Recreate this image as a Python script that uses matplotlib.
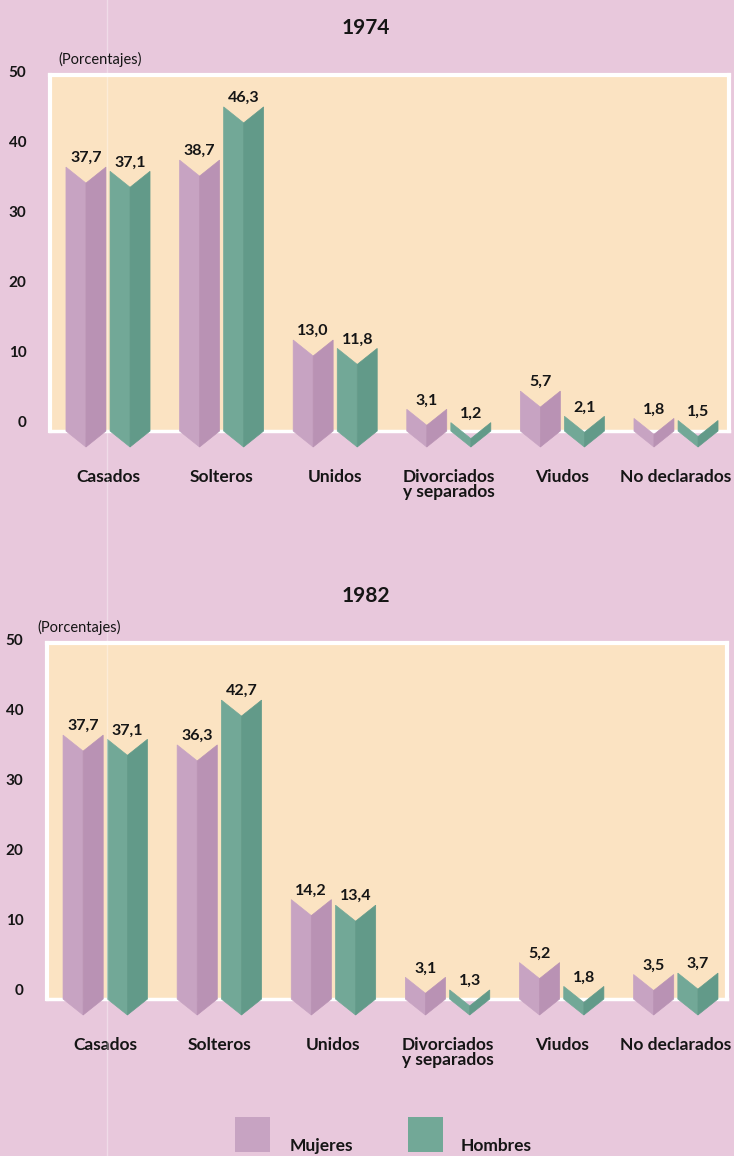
import matplotlib.pyplot as plt
from matplotlib.patches import Polygon, Rectangle
from matplotlib.lines import Line2D
import matplotlib.transforms as mtransforms

categorias = ["Casados", "Solteros", "Unidos", "Divorciados\ny separados", "Viudos", "No declarados"]
anios = ["1974", "1982"]
mujeres_1974 = [37.7, 38.7, 13.0, 3.1, 5.7, 1.8]
hombres_1974 = [37.1, 46.3, 11.8, 1.2, 2.1, 1.5]
mujeres_1982 = [37.7, 36.3, 14.2, 3.1, 5.2, 3.5]
hombres_1982 = [37.1, 42.7, 13.4, 1.3, 1.8, 3.7]
yticks = [0, 10, 20, 30, 40, 50]

FONDO = "#e8c8dc"
CAJA = "#fbe3c2"
MUJ = ("#c7a3c2", "#b992b4")
HOM = ("#72a897", "#629a89")
FONT = "Lato"
TXT = "#151515"

W, H = 734, 1156
fig = plt.figure(figsize=(W / 100, H / 100), dpi=100)
fig.patch.set_facecolor(FONDO)

PXU = 7.0        # pixels per unit
NOTCH = 16 / PXU  # notch depth in data units
HALF = 0.176     # half bar width (x units)
OFF = 0.194      # offset of each bar from group center


def fmt(v):
    return f"{v:.1f}".replace(".", ",")


def barra(ax, xc, v, cols):
    l, r = xc - HALF, xc + HALF
    izq = [(l, v), (xc, v - NOTCH), (xc, -NOTCH), (l, 0)]
    der = [(xc, v - NOTCH), (r, v), (r, 0), (xc, -NOTCH)]
    for pts, c in ((izq, cols[0]), (der, cols[1])):
        ax.add_patch(Polygon(pts, closed=True, facecolor=c, edgecolor=c,
                             lw=0.5, zorder=3, clip_on=False))
    ax.text(xc, v + 2 / PXU, fmt(v), ha="center", va="bottom", fontsize=11.5,
            fontweight="bold", family=FONT, color=TXT, zorder=4)


def panel(top_px, left_px, right_px, titulo, muj, hom, pc_x):
    zero_px = top_px + 356
    ax = fig.add_axes([left_px / W, 1 - zero_px / H, (right_px - left_px) / W, 356 / H])
    ax.set_facecolor(CAJA)
    ax.set_ylim(0, 356 / PXU)
    step = 113.6
    ax.set_xlim(-(108 - 50) / step, (right_px - 108) / step)
    for s in ax.spines.values():
        s.set_color("white")
        s.set_linewidth(3)
    ax.spines["bottom"].set_linewidth(2.5)
    for i in range(len(categorias)):
        barra(ax, i - OFF, muj[i], MUJ)
        barra(ax, i + OFF, hom[i], HOM)
    ax.set_yticks(yticks)
    ax.set_yticklabels([str(t) for t in yticks], fontsize=11, fontweight="bold",
                       family=FONT, color=TXT)
    ax.tick_params(axis="y", length=0, pad=17)
    off = mtransforms.ScaledTranslation(0, 7 / 72, fig.dpi_scale_trans)
    for lab in ax.get_yticklabels():
        lab.set_transform(lab.get_transform() + off)
    ax.set_xticks(range(len(categorias)))
    ax.set_xticklabels(categorias, fontsize=12.5, fontweight="bold", family=FONT,
                       color=TXT, linespacing=1.0)
    ax.tick_params(axis="x", length=0, pad=27)
    fig.text(366 / W, 1 - (top_px - 47) / H, titulo, ha="center", va="center",
             fontsize=15, fontweight="bold", family=FONT, color=TXT)
    fig.text(pc_x / W, 1 - (top_px - 16) / H, "(Porcentajes)", ha="left", va="center",
             fontsize=10.5, family=FONT, color=TXT)
    return ax


panel(75, 50, 729, anios[0], mujeres_1974, hombres_1974, 58)
panel(643, 47, 727, anios[1], mujeres_1982, hombres_1982, 37)

# legend
for x, c, lab, tx in ((235, MUJ[0], "Mujeres", 290), (408, HOM[0], "Hombres", 461)):
    fig.add_artist(Rectangle((x / W, 1 - 1152 / H), 35 / W, 35 / H,
                             transform=fig.transFigure, facecolor=c, edgecolor="none"))
    fig.text(tx / W, 1 - 1146 / H, lab, ha="left", va="center", fontsize=12.5,
             fontweight="bold", family=FONT, color=TXT)

# faint scan line
fig.add_artist(Line2D([107 / W, 107 / W], [0, 1], transform=fig.transFigure,
                      color="white", alpha=0.35, lw=1))

fig.savefig("out.png", dpi=100, facecolor=FONDO)
